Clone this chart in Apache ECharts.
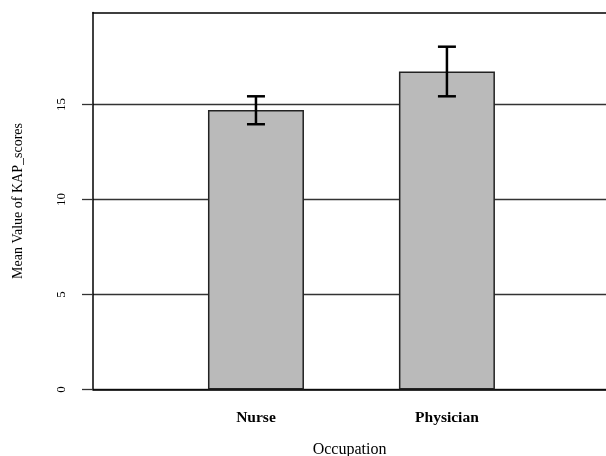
<!DOCTYPE html>
<html>

<head>
    <meta charset="utf-8">
    <title>KAP scores by occupation</title>
    <script src="https://cdn.jsdelivr.net/npm/echarts@6/dist/echarts.min.js"></script>
</head>

<body style="margin:0">
    <div id="main" style="width: 606px;height:456px;"></div>
    <script>
        var chart = echarts.init(document.getElementById("main"));

        // data
        var occupations = ['Nurse', 'Physician'];
        var means = [14.71, 16.73];
        var errLow = [13.96, 15.43];
        var errHigh = [15.43, 18.04];
        var yTicks = [0, 5, 10, 15];

        var barData = [];
        var errData = [];
        for (var i = 0; i < occupations.length; i++) {
            barData.push([i + 1, means[i]]);
            errData.push([i + 1, errLow[i], errHigh[i]]);
        }

        var serif = '"Liberation Serif", "DejaVu Serif", serif';
        var xMin = 0.1466, xMax = 2.833;

        option = {
            animation: false,
            grid: {
                left: 93,
                right: 0,
                top: 12.5,
                bottom: 66.5,
                outerBoundsMode: 'none',
                containLabel: false
            },
            xAxis: [{
                type: 'value',
                min: xMin,
                max: xMax,
                name: 'Occupation',
                nameLocation: 'middle',
                nameGap: 52,
                nameTextStyle: { fontFamily: serif, fontSize: 16, color: '#000' },
                splitLine: { show: false },
                axisTick: { show: false },
                axisLine: { lineStyle: { color: '#000', width: 1.5 } },
                axisLabel: {
                    customValues: [1, 2],
                    formatter: function (v) { return occupations[Math.round(v) - 1]; },
                    fontFamily: serif,
                    fontSize: 15.5,
                    fontWeight: 'bold',
                    color: '#000',
                    margin: 20
                }
            }, {
                // top edge of the box
                type: 'value',
                position: 'top',
                min: xMin,
                max: xMax,
                axisLine: { show: true, lineStyle: { color: '#000', width: 1.5 } },
                axisTick: { show: false },
                axisLabel: { show: false },
                splitLine: { show: false }
            }],
            yAxis: {
                type: 'value',
                min: 0,
                max: 19.84,
                name: 'Mean Value of KAP_scores',
                nameLocation: 'middle',
                nameGap: 68,
                nameTextStyle: { fontFamily: serif, fontSize: 14, color: '#000' },
                axisLine: { show: true, lineStyle: { color: '#000', width: 1.5 } },
                axisTick: {
                    show: true,
                    customValues: yTicks,
                    length: 11,
                    lineStyle: { color: '#333', width: 1.3 }
                },
                axisLabel: {
                    customValues: yTicks,
                    rotate: 90,
                    margin: 25,
                    fontFamily: serif,
                    fontSize: 13,
                    color: '#000'
                },
                splitLine: { show: true, lineStyle: { color: '#333', width: 1.3 } }
            },
            series: [{
                type: 'bar',
                data: barData,
                barWidth: 96,
                itemStyle: { color: '#bababa', borderColor: '#222', borderWidth: 1.5 },
                z: 2
            }, {
                type: 'custom',
                data: errData,
                z: 3,
                renderItem: function (params, api) {
                    var top = api.coord([api.value(0), api.value(2)]);
                    var bot = api.coord([api.value(0), api.value(1)]);
                    var cap = 9;
                    var style = { stroke: '#000', lineWidth: 2.5 };
                    return {
                        type: 'group',
                        children: [
                            { type: 'line', shape: { x1: top[0], y1: top[1], x2: bot[0], y2: bot[1] }, style: style },
                            { type: 'line', shape: { x1: top[0] - cap, y1: top[1], x2: top[0] + cap, y2: top[1] }, style: style },
                            { type: 'line', shape: { x1: bot[0] - cap, y1: bot[1], x2: bot[0] + cap, y2: bot[1] }, style: style }
                        ]
                    };
                }
            }]
        };

        chart.setOption(option);
    </script>
</body>

</html>
